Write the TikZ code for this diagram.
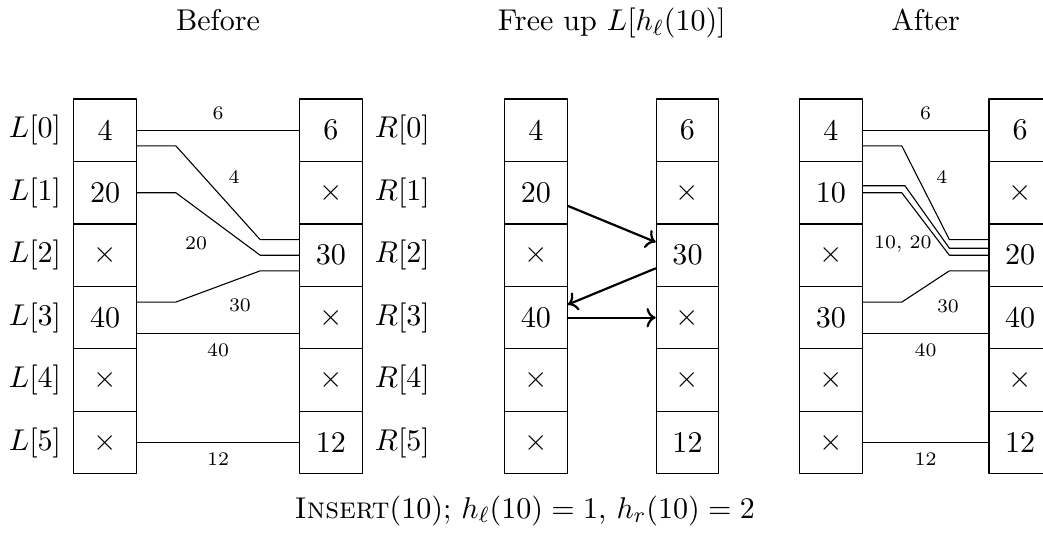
\documentclass[tikz,border=0pt,11pt]{standalone}
\usepackage{amsmath}
\usepackage{amssymb}
\usepackage{tikz}
\usetikzlibrary{arrows.meta}

\begin{document}
\begin{tikzpicture}[
	line cap=round,
	line join=round,
	slot/.style={draw, minimum size=0.8cm, inner sep=0pt},
	edgelabel/.style={font=\fontsize{7}{8.5}\selectfont},
	move/.style={->, thick}
	]
	
	\useasboundingbox (0,-5.155) rectangle (13.355,1.668);
	
	% Before
	\begin{scope}[shift={(1.345,0)}]
		\node[anchor=base] (tb) at (1.447,1.275) {Before};
		
		\foreach \v [count=\i from 0] in {4,20,$\times$,40,$\times$,$\times$}
		{
			\node[slot] (bl\i) at (0,-0.8*\i) {\v};
			\node[left=0.6pt] (bll\i) at (bl\i.west) {$L[\i]$};
		}
		\foreach \v [count=\i from 0] in {6,$\times$,30,$\times$,$\times$,12}
		{
			\node[slot] (br\i) at (2.893,-0.8*\i) {\v};
			\node[right=0.6pt] (brl\i) at (br\i.east) {$R[\i]$};
		}
		
		\draw (bl0.east) -- node[above, edgelabel] {6} (br0.west);
		\draw ([yshift=-2mm]bl0.east) -- ++(0.5,0) -- ([xshift=-5mm,yshift=2mm]br2.west) -- ([yshift=2mm]br2.west);
		\draw (bl1.east) -- ++(0.5,0) -- ([xshift=-5mm]br2.west) -- (br2.west);
		\draw ([yshift=2mm]bl3.east) -- ++(0.5,0) -- ([xshift=-5mm,yshift=-2mm]br2.west) -- ([yshift=-2mm]br2.west);
		\draw ([yshift=-2mm]bl3.east) -- node[below, edgelabel] {40} ([yshift=-2mm]br3.west);
		\draw (bl5.east) -- node[below, edgelabel] {12} (br5.west);
		
		\node[edgelabel] (b4) at (1.651,-0.598) {4};
		\node[edgelabel] (b20) at (1.165,-1.443) {20};
		\node[edgelabel] (b30) at (1.728,-2.237) {30};
	\end{scope}
	
	% Free up
	\begin{scope}[shift={(6.863,0)}]
		\node[anchor=base] (tm) at (0.97,1.275) {Free up $L[h_\ell(10)]$};
		
		\foreach \v [count=\i from 0] in {4,20,$\times$,40,$\times$,$\times$}
		\node[slot] (ml\i) at (0,-0.8*\i) {\v};
		\foreach \v [count=\i from 0] in {6,$\times$,30,$\times$,$\times$,12}
		\node[slot] (mr\i) at (1.94,-0.8*\i) {\v};
		
		\draw[move] (ml1) -- (mr2);
		\draw[move] (mr2) -- (ml3);
		\draw[move] (ml3) -- (mr3);
	\end{scope}
	
	% After
	\begin{scope}[shift={(10.64,0)}]
		\node[anchor=base] (ta) at (1.2115,1.275) {After};
		
		\foreach \v [count=\i from 0] in {4,10,$\times$,30,$\times$,$\times$}
		\node[slot] (al\i) at (0,-0.8*\i) {\v};
		\foreach \v [count=\i from 0] in {6,$\times$,20,40,$\times$,12}
		\node[slot] (ar\i) at (2.423,-0.8*\i) {\v};
		
		\draw (al0.east) -- node[above, edgelabel] {6} (ar0.west);
		\draw ([yshift=-2mm]al0.east) -- ++(0.5,0) -- ([xshift=-5mm,yshift=2mm]ar2.west) -- ([yshift=2mm]ar2.west);
		\draw ([yshift=0.9mm]al1.east) -- ++(0.54,0) -- ([xshift=-5mm,yshift=0.9mm]ar2.west) -- ([yshift=0.9mm]ar2.west);
		\draw (al1.east) -- ++(0.5,0) -- ([xshift=-5mm]ar2.west) -- (ar2.west);
		\draw ([yshift=2mm]al3.east) -- ++(0.5,0) -- ([xshift=-5mm,yshift=-2mm]ar2.west) -- ([yshift=-2mm]ar2.west);
		\draw ([yshift=-2mm]al3.east) -- node[below, edgelabel] {40} ([yshift=-2mm]ar3.west);
		\draw (al5.east) -- node[below, edgelabel] {12} (ar5.west);
		
		\node[edgelabel] (a4) at (1.42,-0.598) {4};
		\node[edgelabel] (a1020) at (0.92,-1.456) {10, 20};
		\node[edgelabel] (a30) at (1.498,-2.25) {30};
	\end{scope}
	
	\node[anchor=base] (cap) at (6.72,-4.965) {\textsc{Insert}(10); $h_\ell(10) = 1$, $h_r(10) = 2$};
	
\end{tikzpicture}
\end{document}
